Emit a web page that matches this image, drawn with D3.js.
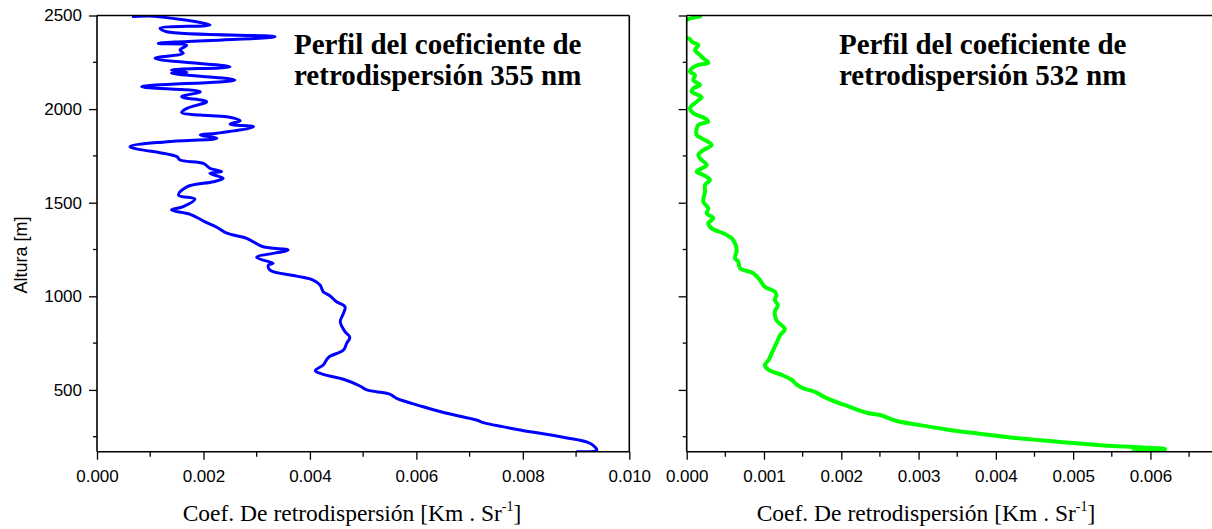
<!DOCTYPE html>
<html><head><meta charset="utf-8">
<script src="https://cdn.jsdelivr.net/npm/d3@7"></script>
<style>
html,body{margin:0;padding:0;background:#fff;}
svg{display:block;}
</style></head>
<body>
<svg id="c" width="1212" height="529"></svg>
<script>
// ---------- DATA ----------
const altitudeTicks = [500, 1000, 1500, 2000, 2500];
const altitudeMinor = [250, 750, 1250, 1750, 2250];
const ticks355 = [0, 0.002, 0.004, 0.006, 0.008, 0.010];
const minor355 = [0.001, 0.003, 0.005, 0.007, 0.009];
const ticks532 = [0, 0.001, 0.002, 0.003, 0.004, 0.005, 0.006];
const minor532 = [0.0005, 0.0015, 0.0025, 0.0035, 0.0045, 0.0055, 0.0065];

const alt355 = [2494,2497,2449,2432,2413,2387,2351,2342,2316,2298,2271,2226,2209,2197,2191,2155,2120,2093,2066,2040,2004,1981,1968,1959,1938,1920,1906,1871,1862,1844,1826,1799,1746,1728,1710,1684,1666,1657,1630,1612,1585,1541,1520,1479,1461,1438,1398,1369,1337,1310,1265,1247,1208,1176,1167,1140,1108,1087,1060,1025,1002,971,944,909,864,811,781,749,713,674,633,603,583,557,521,500,478,455,410,375,339,325,286,247,215,179,170];
const coef355 = [0.000682,0.000996,0.002123,0.001184,0.00131,0.003344,0.001152,0.001685,0.00156,0.00162,0.00109,0.0025,0.0014,0.00169,0.0014,0.00259,0.00084,0.00194,0.00159,0.00206,0.00169,0.00159,0.00194,0.00244,0.00269,0.0025,0.00294,0.00225,0.00194,0.00225,0.00131,0.00062,0.0015,0.00156,0.002,0.00212,0.00234,0.00212,0.00237,0.00219,0.00169,0.00153,0.00184,0.00162,0.0014,0.00175,0.00203,0.00225,0.00244,0.00281,0.00312,0.00359,0.003,0.00331,0.00322,0.00325,0.00375,0.00406,0.00419,0.00425,0.00438,0.0045,0.00466,0.00463,0.00457,0.00466,0.00475,0.00469,0.00463,0.00435,0.00425,0.0041,0.00425,0.00463,0.00494,0.00507,0.0055,0.00563,0.00613,0.00657,0.00713,0.00726,0.00795,0.00876,0.00926,0.00939,0.00902];

const alt532 = [2494,2480,2460,2390,2373,2360,2342,2316,2289,2271,2248,2236,2218,2200,2182,2155,2129,2111,2093,2063,2040,2004,1978,1951,1933,1915,1862,1844,1808,1781,1755,1728,1701,1666,1648,1621,1595,1559,1505,1470,1443,1417,1390,1363,1337,1310,1283,1247,1203,1185,1150,1123,1087,1051,1025,1007,980,953,918,873,824,793,766,731,696,660,633,607,580,553,530,508,490,464,428,416,378,366,334,312,289,268,245,227,215,200,193,184,175,174];
const coef532 = [0.000172,0.0000207,-0.00004,-0.00004,0.0000427,0.0000647,0.00015,0.000107,0.000172,0.000215,0.000279,0.00015,0.0000647,0.0000427,0.000107,0.0000853,0.000172,0.0000853,0.0000647,0.000194,0.000129,0.0000427,0.0000853,0.000237,0.000279,0.00015,0.000129,0.000194,0.000323,0.000215,0.00015,0.000194,0.000259,0.000129,0.000215,0.000301,0.000237,0.000237,0.000215,0.000279,0.000259,0.000344,0.000279,0.000323,0.000473,0.000582,0.000625,0.000647,0.000625,0.000667,0.000689,0.000861,0.000948,0.00101,0.00114,0.00116,0.00114,0.00118,0.00114,0.00116,0.00127,0.00121,0.00118,0.00114,0.0011,0.00106,0.00101,0.00106,0.00123,0.00136,0.00142,0.00151,0.00166,0.00177,0.00198,0.00207,0.00233,0.0025,0.00272,0.00302,0.00336,0.00375,0.00422,0.0047,0.00504,0.00552,0.0059,0.00619,0.00612,0.00578];

const title355 = ["Perfil del coeficiente de", "retrodispersión 355 nm"];
const title532 = ["Perfil del coeficiente de", "retrodispersión 532 nm"];

// ---------- LAYOUT ----------
const svg = d3.select("#c");
const plotTop = 15.5, plotBottom = 451.7;
const y = d3.scaleLinear().domain([170, 2500]).range([plotBottom, plotTop]);

const panels = [
  {x0: 97, x1: 629.3, dom: [0, 0.010], ticks: ticks355, minor: minor355, fmt: d3.format(".3f"),
   alt: alt355, coef: coef355, color: "#0000ff", width: 3, labels: true, rightSpine: true,
   title: title355, tx: 294, xt: 352},
  {x0: 686.7, x1: 1220, dom: [0, 0.0069], ticks: ticks532, minor: minor532, fmt: d3.format(".3f"),
   alt: alt532, coef: coef532, color: "#00ff00", width: 4, labels: false, rightSpine: false,
   title: title532, tx: 839, xt: 926}
];

const axisColor = "#000";
panels.forEach((p, i) => {
  const x = d3.scaleLinear().domain(p.dom).range([p.x0, p.x1]);
  const g = svg.append("g");

  const cid = "clip" + i;
  svg.append("clipPath").attr("id", cid).append("rect")
    .attr("x", p.x0).attr("y", plotTop).attr("width", Math.min(p.x1, 1212) - p.x0).attr("height", plotBottom - plotTop);

  const pts = p.alt.map((a, k) => [p.coef[k], a]);
  g.append("path").datum(pts)
    .attr("clip-path", `url(#${cid})`)
    .attr("fill", "none").attr("stroke", p.color).attr("stroke-width", p.width)
    .attr("stroke-linejoin", "round").attr("stroke-linecap", "round")
    .attr("d", d3.line().x(d => x(d[0])).y(d => y(d[1])).curve(d3.curveCatmullRom.alpha(0.5)));

  const ax = g.append("g").attr("transform", `translate(0,${plotBottom})`)
    .call(d3.axisBottom(x).tickValues(p.ticks).tickFormat(p.fmt).tickSize(8).tickPadding(10).tickSizeOuter(0));
  ax.select(".domain").remove();
  ax.selectAll("line").attr("stroke", axisColor).attr("stroke-width", 1.3);
  ax.selectAll("text").attr("font-family", "Liberation Sans, Arial, sans-serif").attr("font-size", 17).attr("fill", "#000");
  g.append("g").attr("transform", `translate(0,${plotBottom})`).selectAll("line").data(p.minor).join("line")
    .attr("x1", d => x(d)).attr("x2", d => x(d)).attr("y1", 0).attr("y2", 5)
    .attr("stroke", axisColor).attr("stroke-width", 1.3);

  const ay = g.append("g").attr("transform", `translate(${p.x0},0)`)
    .call(d3.axisLeft(y).tickValues(altitudeTicks).tickFormat(p.labels ? d3.format("d") : () => "").tickSize(8).tickPadding(7).tickSizeOuter(0));
  ay.select(".domain").remove();
  ay.selectAll("line").attr("stroke", axisColor).attr("stroke-width", 1.3);
  ay.selectAll("text").attr("font-family", "Liberation Sans, Arial, sans-serif").attr("font-size", 17).attr("fill", "#000");
  g.append("g").attr("transform", `translate(${p.x0},0)`).selectAll("line").data(altitudeMinor).join("line")
    .attr("x1", -4).attr("x2", 0).attr("y1", d => y(d)).attr("y2", d => y(d))
    .attr("stroke", axisColor).attr("stroke-width", 1.3);

  const xr = Math.min(p.x1, 1212);
  g.append("line").attr("x1", p.x0).attr("x2", p.x0).attr("y1", plotTop).attr("y2", plotBottom).attr("stroke", axisColor).attr("stroke-width", 1.6);
  g.append("line").attr("x1", p.x0).attr("x2", xr).attr("y1", plotBottom).attr("y2", plotBottom).attr("stroke", axisColor).attr("stroke-width", 1.6);
  g.append("line").attr("x1", p.x0).attr("x2", xr).attr("y1", plotTop).attr("y2", plotTop).attr("stroke", axisColor).attr("stroke-width", 1.6);
  if (p.rightSpine) g.append("line").attr("x1", xr).attr("x2", xr).attr("y1", plotTop).attr("y2", plotBottom).attr("stroke", axisColor).attr("stroke-width", 1.6);

  const t = g.append("text").attr("font-family", "Liberation Serif, Times New Roman, serif")
    .attr("font-weight", "bold").attr("font-size", 29).attr("fill", "#000");
  p.title.forEach((line, k) => t.append("tspan").attr("x", p.tx).attr("y", 54 + k * 31).text(line));

  const xt = g.append("text").attr("x", p.xt).attr("y", 521).attr("text-anchor", "middle")
    .attr("font-family", "Liberation Serif, Times New Roman, serif").attr("font-size", 23.5).attr("fill", "#000");
  xt.append("tspan").text("Coef. De retrodispersión [Km . Sr");
  xt.append("tspan").attr("font-size", 14).attr("dy", -10).text("-1");
  xt.append("tspan").attr("dy", 10).text("]");
});

svg.append("text").attr("transform", "translate(27,255) rotate(-90)").attr("text-anchor", "middle")
  .attr("font-family", "Liberation Sans, Arial, sans-serif").attr("font-size", 18).attr("fill", "#000")
  .text("Altura [m]");
</script>
</body></html>
